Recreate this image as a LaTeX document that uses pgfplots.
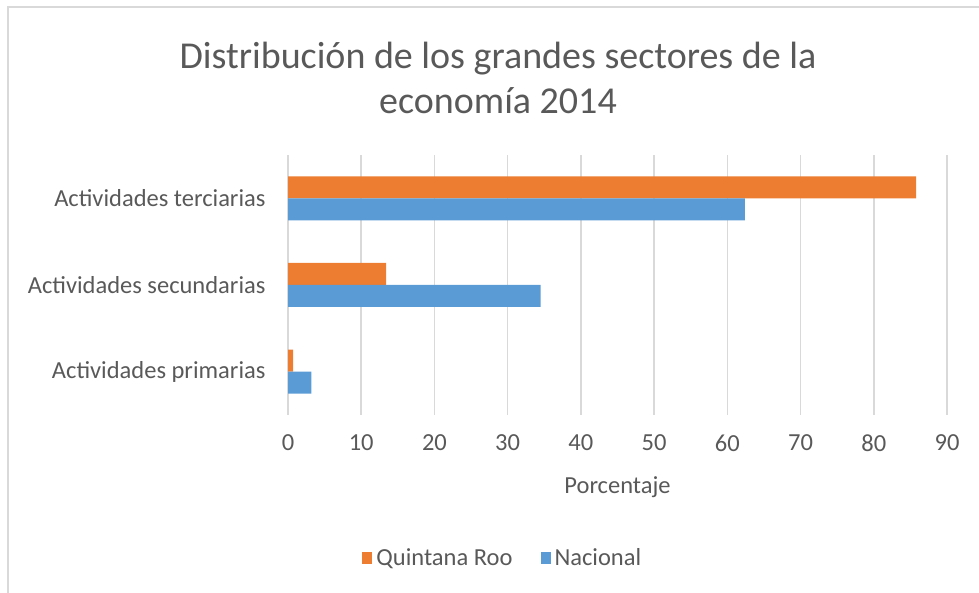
\documentclass[border=0pt]{standalone}
\usepackage{pgfplots}
\pgfplotsset{compat=1.18}
\usepackage{fontspec}
\setmainfont{Carlito}
\definecolor{qr}{HTML}{ED7D31}
\definecolor{nac}{HTML}{5B9BD5}
\definecolor{txt}{HTML}{595959}
\definecolor{grd}{HTML}{D9D9D9}
\begin{document}
\begin{tikzpicture}[x=1pt,y=1pt]
\useasboundingbox (0,0) rectangle (979,593);
\draw[grd, line width=1.5pt] (8,0) -- (8,586) -- (979,586);
\node[txt, font=\fontsize{38}{45}\selectfont, align=center] at (498,515) {Distribución de los grandes sectores de la\\economía 2014};
\begin{axis}[
  at={(288pt,178pt)}, anchor=south west, scale only axis,
  width=659pt, height=260pt,
  xbar, xmin=0, xmax=90, ymin=-0.5, ymax=2.5,
  bar width=22pt,
  ytick={0,1,2},
  yticklabels={Actividades primarias, Actividades secundarias, Actividades terciarias},
  xtick={0,10,...,90},
  xmajorgrids, grid style={grd, line width=1.5pt},
  axis line style={draw=none},
  major tick length=0pt,
  tick label style={txt, font=\fontsize{24.5}{28}\selectfont},
  yticklabel style={xshift=-19pt},
  xticklabel style={yshift=-16pt},
  /pgf/number format/assume math mode=true,
  xlabel={Porcentaje},
  xlabel style={txt, font=\fontsize{24.5}{28}\selectfont, at={(axis description cs:0.5,-0.277)}, anchor=center},
  legend style={at={(axis description cs:0.326,-0.55)}, anchor=center, draw=none, legend columns=-1,
    font=\fontsize{24.5}{28}\selectfont, text=txt,
    /tikz/every odd column/.append style={column sep=2pt},
    /tikz/every even column/.append style={column sep=26pt}},
  legend image code/.code={\path[#1] (0pt,-6pt) rectangle (10pt,6pt);},
]
\addplot[fill=qr, draw=none, bar shift=11pt] coordinates {(0.7,0) (13.4,1) (85.8,2)};
\addplot[fill=nac, draw=none, bar shift=-11pt] coordinates {(3.2,0) (34.5,1) (62.4,2)};
\legend{Quintana Roo, Nacional}
\end{axis}
\end{tikzpicture}
\end{document}
